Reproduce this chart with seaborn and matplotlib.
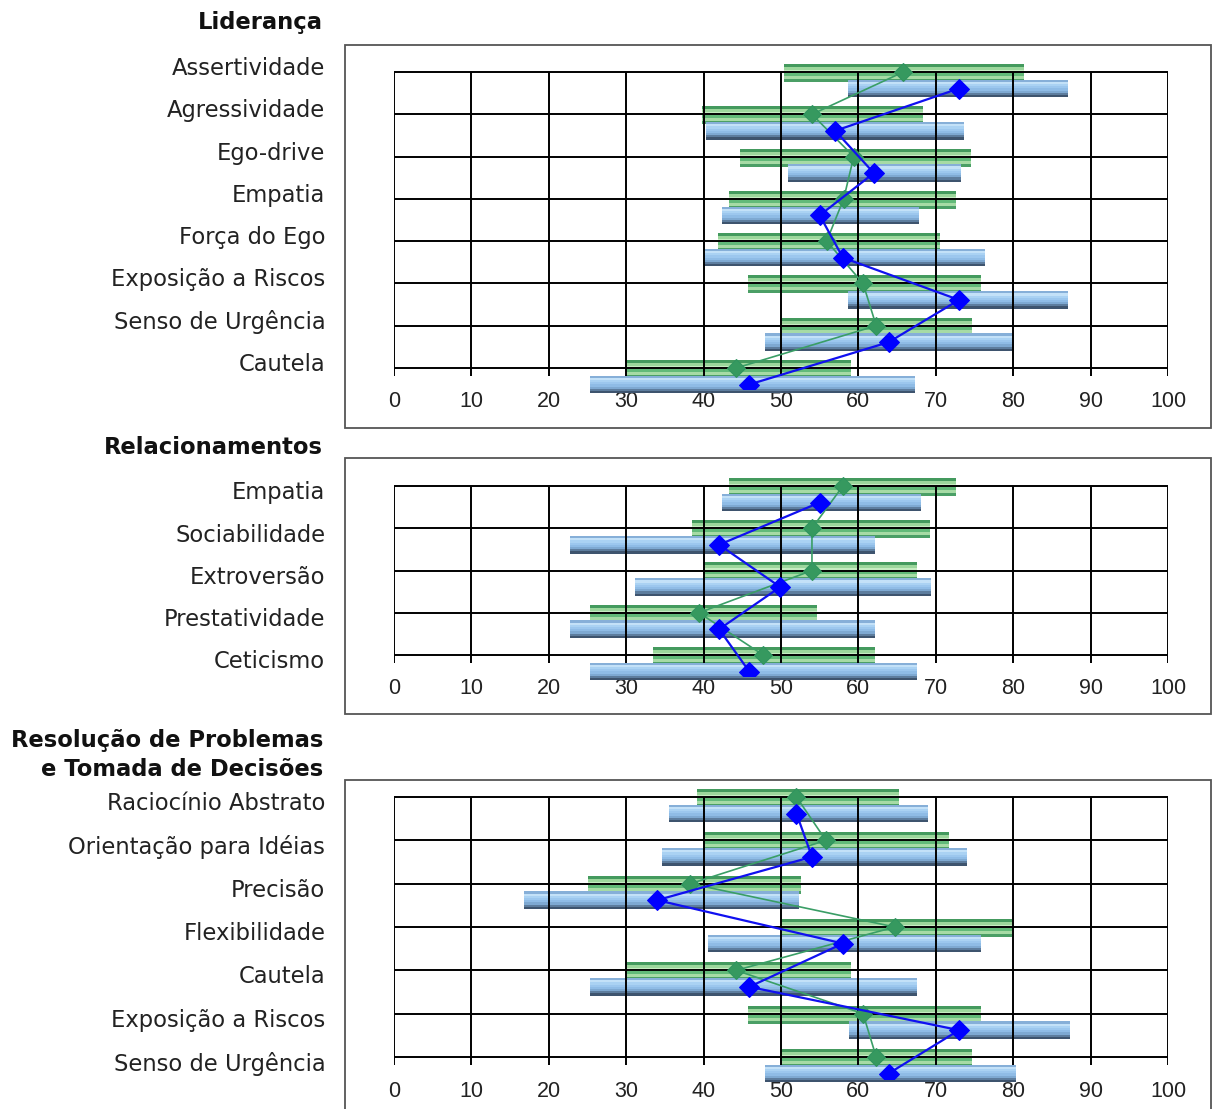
import numpy as np
import matplotlib
matplotlib.use("Agg")
import matplotlib.pyplot as plt
import seaborn as sns
from matplotlib import font_manager
from matplotlib.patches import Rectangle

# ---------------- data ----------------
lid_categories = ["Assertividade", "Agressividade", "Ego-drive", "Empatia",
                  "Força do Ego", "Exposição a Riscos", "Senso de Urgência", "Cautela"]
lid_green_low = [50.4, 39.8, 44.7, 43.3, 41.8, 45.7, 50.0, 29.9]
lid_green_high = [81.4, 68.3, 74.5, 72.6, 70.5, 75.8, 74.7, 59.0]
lid_green_score = [65.8, 54.0, 59.4, 58.1, 55.9, 60.6, 62.3, 44.2]
lid_blue_low = [58.6, 40.3, 50.9, 42.4, 39.9, 58.6, 47.9, 25.3]
lid_blue_high = [87.1, 73.7, 73.3, 67.8, 76.3, 87.1, 80.1, 67.3]
lid_blue_score = [73.0, 57.0, 62.0, 55.0, 58.0, 73.0, 63.9, 45.9]

rel_categories = ["Empatia", "Sociabilidade", "Extroversão", "Prestatividade", "Ceticismo"]
rel_green_low = [43.3, 38.5, 39.9, 25.3, 33.5]
rel_green_high = [72.6, 69.2, 67.6, 54.6, 62.2]
rel_green_score = [58.0, 54.0, 54.0, 39.4, 47.7]
rel_blue_low = [42.4, 22.7, 31.2, 22.7, 25.3]
rel_blue_high = [68.1, 62.2, 69.4, 62.2, 67.6]
rel_blue_score = [55.0, 42.0, 49.9, 42.0, 45.9]

res_categories = ["Raciocínio Abstrato", "Orientação para Idéias", "Precisão", "Flexibilidade",
                  "Cautela", "Exposição a Riscos", "Senso de Urgência"]
res_green_low = [39.1, 39.9, 25.0, 50.0, 29.9, 45.7, 50.0]
res_green_high = [65.3, 71.7, 52.6, 79.9, 59.0, 75.8, 74.7]
res_green_score = [52.0, 55.8, 38.3, 64.7, 44.2, 60.6, 62.3]
res_blue_low = [35.5, 34.6, 16.8, 40.6, 25.3, 58.8, 47.9]
res_blue_high = [69.0, 74.0, 52.3, 75.8, 67.6, 87.3, 80.4]
res_blue_score = [52.0, 54.0, 34.0, 58.0, 45.9, 73.0, 63.9]

x_ticks = [0, 10, 20, 30, 40, 50, 60, 70, 80, 90, 100]

titles = ["Liderança", "Relacionamentos", "Resolução de Problemas\ne Tomada de Decisões"]

# ---------------- style ----------------
sns.set_theme(style="white")
plt.rcParams["font.family"] = ["DejaVu Sans"]
names = {f.name for f in font_manager.fontManager.ttflist}
tick_font = "Liberation Sans Narrow" if "Liberation Sans Narrow" in names else "Liberation Sans"
tick_size = 17.5 if tick_font == "Liberation Sans Narrow" else 15.5

W, H = 1213, 1109
fig = plt.figure(figsize=(W / 100, H / 100), dpi=100)

green_stripes = ["#449a5e", "#9cd79c", "#c6ecc2", "#62ba79", "#a6dba5", "#4b9f66"]
blue_stripes = ["#86afd8", "#c3e1f8", "#aad2f3", "#9cc7ee", "#8fbce6", "#7ea9d2", "#5d7d9e", "#3e546e"]


def striped_bars(ax, pos, low, high, height, colors):
    low = np.asarray(low)
    high = np.asarray(high)
    k = len(colors)
    sh = height / k
    for j, c in enumerate(colors):
        ax.barh(pos - height / 2 + sh * (j + 0.5), high - low, left=low, height=sh * 1.02,
                color=c, edgecolor="none", zorder=2, clip_on=False)


def panel(cats, gl, gh, gs, bl, bh, bs, grid_top, grid_bot, label_off, title_lines, title_y,
          frame):
    n = len(cats)
    s = (grid_bot - grid_top) / (n - 1)
    ax_top = grid_top - 0.5 * s
    ax_bot = grid_bot + 0.5 * s
    ax = fig.add_axes([394 / W, 1 - ax_bot / H, 774 / W, (ax_bot - ax_top) / H])
    ax.set_xlim(0, 100)
    ax.set_ylim(n - 1 + 0.5, -0.5)
    for sp in ax.spines.values():
        sp.set_visible(False)
    ax.set_facecolor("none")
    pos = np.arange(n, dtype=float)
    g_pos = pos + 1.0 / s
    b_pos = pos + 16.5 / s
    striped_bars(ax, g_pos, gl, gh, 18.0 / s, green_stripes)
    striped_bars(ax, b_pos, bl, bh, 17.5 / s, blue_stripes)
    # grid
    ax.hlines(pos, 0, 100, color="black", lw=1.4, zorder=3)
    ax.vlines(x_ticks, 0, n - 1 + 8.0 / s, color="black", lw=1.4, zorder=3)
    # score lines
    sns.lineplot(x=gs, y=g_pos - 1.0 / s, ax=ax, sort=False, estimator=None, color="#3a9e66",
                 lw=1.2, marker="D", markersize=9, markeredgecolor="#2f9460",
                 markerfacecolor="#36995f", zorder=4)
    sns.lineplot(x=bs, y=b_pos, ax=ax, sort=False, estimator=None, color="#1010f0",
                 lw=1.6, marker="D", markersize=10, markeredgecolor="#0000ff",
                 markerfacecolor="#0000ff", zorder=5)
    ax.set_xlabel("")
    ax.set_ylabel("")
    # axes ticks / labels
    ax.set_xticks(x_ticks)
    ax.set_xticklabels([str(v) for v in x_ticks], fontfamily=tick_font, fontsize=tick_size,
                       color="#222222")
    ax.set_yticks(pos + label_off / s)
    ax.set_yticklabels(cats, fontsize=16.3, color="#222222")
    ax.tick_params(axis="x", length=0, pad=1.5)
    ax.tick_params(axis="y", length=0, pad=49.5)
    # title
    fig.text(323 / W, 1 - title_y / H, title_lines, ha="right", va="center",
             fontsize=16.3, fontweight="bold", color="#111111", linespacing=1.35)
    # frame
    x0, y0, x1, y1 = frame
    fig.add_artist(Rectangle((x0 / W, 1 - y1 / H), (x1 - x0) / W, (y1 - y0) / H,
                             transform=fig.transFigure, fill=False, edgecolor="#555555",
                             lw=1.3, zorder=0))
    return ax


panel(lid_categories, lid_green_low, lid_green_high, lid_green_score,
      lid_blue_low, lid_blue_high, lid_blue_score,
      72, 368, -6, titles[0], 22, (345, 45, 1211, 428))
panel(rel_categories, rel_green_low, rel_green_high, rel_green_score,
      rel_blue_low, rel_blue_high, rel_blue_score,
      486, 655, 4.5, titles[1], 447, (345, 458, 1211, 714))
panel(res_categories, res_green_low, res_green_high, res_green_score,
      res_blue_low, res_blue_high, res_blue_score,
      797, 1057, 4, titles[2], 755, (345, 780, 1211, 1120))

fig.savefig("out.png", dpi=100)
